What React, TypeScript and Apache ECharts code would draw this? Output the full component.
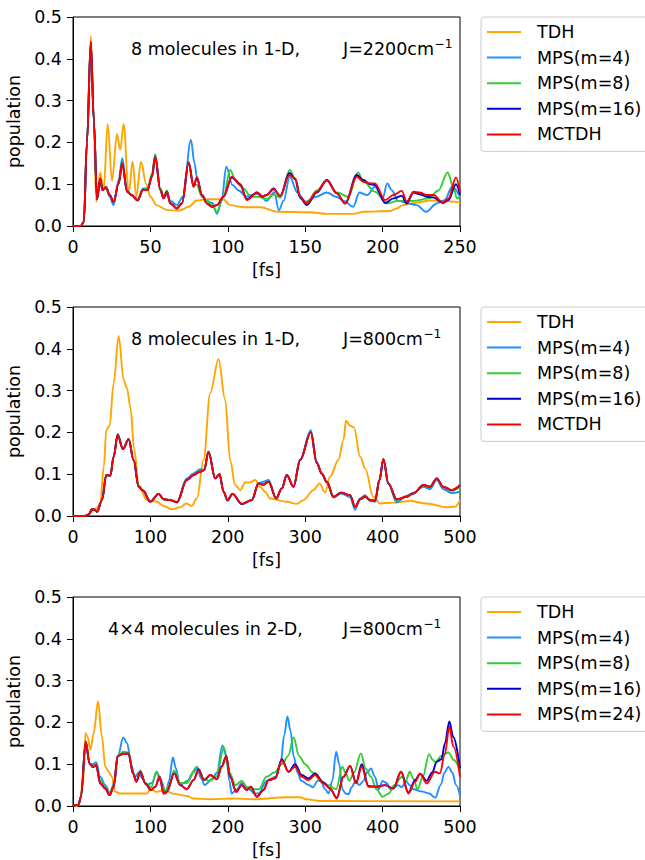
import React, { useEffect, useRef } from "react";
import * as echarts from "echarts";

const FONT = "DejaVu Sans";
const FS = 17.5;
const FS_SUP = 12.2;

const COLORS = ["#FFA500", "#1E90FF", "#32CD32", "#0000CD", "#FF0000"];
const NAMES_1D = ["TDH", "MPS(m=4)", "MPS(m=8)", "MPS(m=16)", "MCTDH"];
const NAMES_2D = ["TDH", "MPS(m=4)", "MPS(m=8)", "MPS(m=16)", "MPS(m=24)"];

const X_MAX = [250, 500, 500];
const X_INT = [50, 100, 100];
const Y_TICKS = [0, 0.1, 0.2, 0.3, 0.4, 0.5];

const TITLES = ["8 molecules in 1-D,", "8 molecules in 1-D,", "4×4 molecules in 2-D,"];
const J_LABELS = ["J=2200cm", "J=800cm", "J=800cm"];
const SUP = "−1";

// ---------- Panel 1 : 8 molecules 1-D, J=2200 ----------
const p1TDH = [[0,0],[5,0],[7,0.01],[9,0.2],[11.5,0.454],[13,0.3],[15,0.058],[17.6,0.128],[19.8,0.085],[22.4,0.244],[25.2,0.108],[28.4,0.22],[30.5,0.182],[32.7,0.244],[36,0.078],[38.5,0.154],[40.9,0.07],[43.9,0.154],[47.3,0.1],[50,0.07],[54,0.05],[60.7,0.038],[69,0.037],[74.7,0.046],[80,0.061],[86.5,0.064],[97,0.064],[101.5,0.05],[110,0.045],[121,0.045],[131.7,0.034],[153,0.033],[164,0.029],[181,0.029],[187.6,0.034],[205,0.036],[209,0.042],[213,0.05],[222,0.056],[230.6,0.061],[250,0.057]];
const p1MPS4 = [[0,0],[5,0],[7,0.01],[9,0.2],[11.5,0.44],[13.5,0.25],[15.5,0.064],[17.6,0.11],[19,0.086],[21.3,0.09],[23.7,0.07],[26.2,0.05],[29.5,0.11],[31.8,0.162],[34.9,0.085],[38,0.072],[41.7,0.06],[45.2,0.09],[48.2,0.09],[51,0.12],[53.1,0.165],[56.4,0.09],[58.5,0.07],[60.7,0.075],[63,0.06],[67,0.05],[71,0.07],[76.2,0.206],[78.5,0.15],[80,0.118],[83.3,0.075],[86.5,0.06],[90,0.055],[93,0.029],[96,0.06],[99,0.142],[103,0.098],[107,0.085],[112,0.07],[116,0.075],[120,0.078],[125,0.06],[130,0.08],[133,0.038],[136,0.06],[140,0.118],[145,0.08],[150,0.058],[157,0.07],[164,0.08],[170,0.07],[175,0.06],[181,0.046],[185,0.08],[190,0.074],[195,0.094],[200,0.066],[203,0.102],[206,0.085],[210,0.06],[217,0.054],[222,0.05],[228,0.034],[235,0.054],[240,0.062],[245,0.094],[250,0.07]];
const p1MPS8 = [[0,0],[5,0],[7,0.01],[9,0.2],[11.5,0.44],[13.5,0.25],[15.5,0.064],[17.6,0.114],[19,0.086],[21.3,0.093],[23.7,0.074],[26.2,0.058],[29.5,0.102],[31.8,0.152],[34.9,0.082],[38,0.074],[41.7,0.062],[45.2,0.086],[48.2,0.088],[51,0.125],[53.1,0.172],[56.4,0.09],[58.5,0.07],[60.7,0.085],[62.8,0.056],[67,0.042],[70.4,0.056],[74.7,0.15],[77.9,0.1],[80,0.098],[83.3,0.07],[86.5,0.06],[89.7,0.05],[93,0.034],[97.2,0.07],[101.5,0.134],[105,0.11],[110,0.09],[115,0.07],[120,0.07],[125,0.065],[130,0.075],[134,0.068],[140,0.134],[144,0.11],[147,0.065],[151,0.055],[157.5,0.085],[164,0.11],[170.4,0.08],[178,0.07],[184,0.128],[188,0.105],[195,0.082],[203,0.054],[210,0.06],[220,0.06],[230,0.066],[236,0.085],[242,0.128],[246,0.09],[248,0.066],[250,0.07]];
const p1MPS16 = [[0,0],[5,0],[7,0.01],[9,0.2],[11.5,0.44],[13.5,0.25],[15.5,0.064],[17.6,0.114],[19,0.086],[21.3,0.093],[23.7,0.074],[26.2,0.058],[29.5,0.102],[31.8,0.15],[34.9,0.082],[38,0.074],[41.7,0.062],[45.2,0.086],[48.2,0.086],[51,0.118],[53.1,0.166],[56.4,0.086],[58.5,0.066],[60.7,0.082],[62.8,0.054],[67,0.042],[70.4,0.054],[74.7,0.152],[77.9,0.094],[80,0.115],[83.3,0.074],[86.5,0.054],[89.7,0.046],[93,0.05],[97.2,0.07],[102.6,0.116],[108,0.1],[112.3,0.064],[118.8,0.08],[122,0.07],[125.2,0.074],[129.5,0.09],[133.8,0.072],[139.8,0.127],[143.5,0.112],[146.7,0.068],[151,0.05],[157.5,0.08],[164,0.11],[170.4,0.078],[175.8,0.054],[183.3,0.122],[187.6,0.11],[191.9,0.1],[195,0.098],[201.6,0.055],[207,0.066],[212.4,0.072],[215.6,0.054],[220,0.08],[224,0.076],[228.5,0.07],[232.8,0.068],[239,0.055],[242.5,0.062],[247.4,0.1],[250,0.075]];
const p1MCTDH = [[0,0],[5,0],[7,0.01],[9,0.2],[11.5,0.442],[13.5,0.25],[15.5,0.064],[17.6,0.114],[19,0.086],[21.3,0.093],[23.7,0.074],[26.2,0.058],[29.5,0.102],[31.8,0.15],[34.9,0.082],[38,0.074],[41.7,0.062],[45.2,0.086],[48.2,0.086],[51,0.118],[53.1,0.165],[56.4,0.086],[58.5,0.066],[60.7,0.082],[62.8,0.054],[67,0.042],[70.4,0.054],[74.7,0.152],[77.9,0.094],[80,0.117],[83.3,0.074],[86.5,0.054],[89.7,0.046],[93,0.05],[97.2,0.07],[102.6,0.118],[108,0.098],[112.3,0.062],[118.8,0.08],[122,0.07],[125.2,0.074],[129.5,0.088],[133.8,0.072],[139.8,0.122],[143.5,0.114],[146.7,0.07],[151,0.054],[157.5,0.082],[164,0.109],[170.4,0.078],[175.8,0.054],[183.3,0.118],[187.6,0.106],[191.9,0.102],[195,0.102],[201.6,0.062],[207,0.074],[212.4,0.084],[215.6,0.058],[220,0.082],[224,0.08],[228.5,0.074],[232.8,0.074],[239,0.056],[242.5,0.066],[247.4,0.116],[250,0.082]];

// ---------- Panel 2 : 8 molecules 1-D, J=800 ----------
const p2TDH = [[0,0],[15,0],[20,0.005],[30,0.018],[35,0.03],[40,0.12],[43,0.206],[47.3,0.216],[52.5,0.318],[59,0.431],[65.4,0.326],[69.7,0.306],[74,0.262],[79.2,0.158],[84.8,0.074],[95.5,0.038],[108.4,0.034],[117,0.024],[127.8,0.016],[138.5,0.021],[146.3,0.03],[153.6,0.024],[160,0.042],[168.7,0.134],[177.3,0.294],[188,0.375],[196.6,0.278],[203,0.134],[209.6,0.074],[216,0.062],[222.5,0.08],[229,0.08],[235.4,0.086],[241.8,0.07],[248.3,0.058],[254.7,0.042],[276,0.034],[289,0.029],[297.8,0.038],[310.7,0.062],[318.4,0.078],[325.7,0.056],[332,0.094],[343,0.134],[349.4,0.182],[352.8,0.228],[358,0.216],[363,0.212],[371,0.142],[377.4,0.114],[388,0.046],[396.7,0.03],[414,0.032],[435.5,0.036],[457,0.03],[482.8,0.021],[493.5,0.022],[500,0.038]];
const p2MPS4 = [[0,0],[15,0],[20,0.003],[24.5,0.016],[28,0.015],[31,0.01],[37.4,0.038],[43,0.098],[48.2,0.097],[52.5,0.142],[57.7,0.196],[64.5,0.16],[71.9,0.184],[78.3,0.134],[84.8,0.07],[90.4,0.061],[99.8,0.034],[110.6,0.053],[117,0.04],[125.6,0.038],[134.3,0.033],[147,0.09],[155.8,0.102],[164.4,0.112],[169.5,0.11],[175,0.154],[183.7,0.09],[189.3,0.1],[194.5,0.058],[199.7,0.036],[206,0.053],[218,0.028],[231,0.038],[239.7,0.078],[246,0.082],[252.6,0.086],[262.5,0.042],[269.8,0.066],[276.2,0.098],[284.9,0.07],[293.5,0.136],[307.2,0.205],[315,0.13],[321.4,0.1],[327.9,0.08],[336.5,0.044],[346.4,0.054],[358,0.045],[364.5,0.015],[371,0.042],[377.4,0.05],[383.8,0.036],[390.3,0.034],[395.9,0.086],[401,0.136],[407.5,0.076],[418.2,0.033],[431,0.048],[439.8,0.056],[452.7,0.07],[461.3,0.064],[470,0.086],[478.5,0.064],[489.2,0.055],[500,0.058]];
const p2MPS8 = [[0,0],[15,0],[20,0.003],[24.5,0.016],[28,0.015],[31,0.01],[37.4,0.038],[43,0.098],[48.2,0.096],[52.5,0.142],[57.7,0.194],[64.5,0.16],[71.9,0.184],[78.3,0.134],[84.8,0.07],[90.4,0.061],[99.8,0.034],[110.6,0.053],[117,0.04],[125.6,0.038],[134.3,0.033],[147,0.087],[155.8,0.099],[164.4,0.108],[169.5,0.11],[175,0.154],[183.7,0.09],[189.3,0.1],[194.5,0.058],[199.7,0.038],[206,0.053],[218,0.029],[231,0.038],[239.7,0.078],[246,0.076],[252.6,0.083],[262.5,0.042],[269.8,0.066],[276.2,0.098],[284.9,0.07],[293.5,0.134],[307.2,0.201],[315,0.127],[321.4,0.102],[327.9,0.082],[336.5,0.046],[346.4,0.056],[358,0.049],[364.5,0.02],[371,0.04],[377.4,0.047],[383.8,0.038],[390.3,0.037],[395.9,0.086],[401,0.136],[407.5,0.078],[418.2,0.038],[431,0.046],[439.8,0.054],[452.7,0.073],[461.3,0.068],[470,0.089],[478.5,0.068],[489.2,0.06],[500,0.07]];
const p2MPS16 = [[0,0],[15,0],[20,0.003],[24.5,0.016],[28,0.015],[31,0.01],[37.4,0.038],[43,0.098],[48.2,0.096],[52.5,0.142],[57.7,0.194],[64.5,0.16],[71.9,0.184],[78.3,0.134],[84.8,0.07],[90.4,0.061],[99.8,0.034],[110.6,0.053],[117,0.04],[125.6,0.038],[134.3,0.033],[147,0.086],[155.8,0.098],[164.4,0.106],[169.5,0.11],[175,0.154],[183.7,0.09],[189.3,0.1],[194.5,0.058],[199.7,0.038],[206,0.053],[218,0.029],[231,0.038],[239.7,0.078],[246,0.075],[252.6,0.082],[262.5,0.042],[269.8,0.066],[276.2,0.098],[284.9,0.07],[293.5,0.134],[307.2,0.2],[315,0.126],[321.4,0.102],[327.9,0.082],[336.5,0.046],[346.4,0.056],[358,0.05],[364.5,0.022],[371,0.04],[377.4,0.046],[383.8,0.038],[390.3,0.037],[395.9,0.086],[401,0.136],[407.5,0.078],[418.2,0.04],[431,0.046],[439.8,0.054],[452.7,0.074],[461.3,0.07],[470,0.09],[478.5,0.07],[489.2,0.062],[500,0.073]];
const p2MCTDH = [[0,0],[15,0],[20,0.003],[24.5,0.016],[28,0.015],[31,0.01],[37.4,0.038],[43,0.098],[48.2,0.096],[52.5,0.142],[57.7,0.194],[64.5,0.16],[71.9,0.184],[78.3,0.134],[84.8,0.07],[90.4,0.061],[99.8,0.034],[110.6,0.053],[117,0.04],[125.6,0.038],[134.3,0.033],[147,0.086],[155.8,0.098],[164.4,0.106],[169.5,0.11],[175,0.154],[183.7,0.09],[189.3,0.1],[194.5,0.058],[199.7,0.038],[206,0.053],[218,0.029],[231,0.038],[239.7,0.078],[246,0.074],[252.6,0.082],[262.5,0.042],[269.8,0.066],[276.2,0.098],[284.9,0.07],[293.5,0.134],[307.2,0.2],[315,0.126],[321.4,0.102],[327.9,0.082],[336.5,0.046],[346.4,0.056],[358,0.05],[364.5,0.022],[371,0.04],[377.4,0.046],[383.8,0.038],[390.3,0.037],[395.9,0.086],[401,0.136],[407.5,0.078],[418.2,0.04],[431,0.046],[439.8,0.054],[452.7,0.074],[461.3,0.07],[470,0.09],[478.5,0.07],[489.2,0.062],[500,0.074]];

// ---------- Panel 3 : 4x4 molecules 2-D, J=800 ----------
const p3TDH = [[0,0],[5,0],[8,0.005],[13.8,0.07],[16,0.174],[18.9,0.166],[22.4,0.134],[26.7,0.174],[32.3,0.25],[37.4,0.166],[41.7,0.094],[46,0.082],[50.3,0.07],[54.6,0.034],[61.1,0.03],[95.5,0.03],[99.8,0.04],[108,0.034],[119,0.038],[130,0.029],[147,0.024],[155.8,0.018],[177,0.016],[207,0.018],[233,0.016],[276,0.021],[293,0.021],[302,0.016],[319,0.012],[500,0.011]];
const p3MPS4 = [[0,0],[7,0.003],[10.3,0.022],[16.4,0.15],[21.5,0.1],[25.8,0.1],[30,0.105],[35,0.07],[41.7,0.05],[48,0.03],[54,0.06],[58,0.12],[65,0.164],[70,0.15],[75,0.1],[80,0.07],[85,0.08],[90,0.065],[95,0.05],[102,0.055],[108,0.082],[114,0.06],[120,0.03],[124,0.06],[129,0.116],[133,0.09],[138,0.05],[148,0.06],[155,0.08],[160,0.09],[166,0.065],[170,0.05],[180,0.065],[186,0.08],[193,0.145],[198,0.12],[202,0.06],[205,0.03],[212,0.04],[218,0.055],[223,0.045],[228,0.04],[234,0.03],[240,0.03],[250,0.06],[262,0.07],[268,0.1],[273,0.17],[277,0.214],[281,0.18],[285,0.12],[290,0.08],[295,0.06],[305,0.05],[310,0.045],[316,0.06],[320,0.06],[326,0.04],[330,0.03],[335,0.06],[340,0.13],[344,0.1],[348,0.04],[352,0.03],[356,0.028],[360,0.045],[365,0.06],[370,0.05],[375,0.06],[380,0.08],[385,0.09],[390,0.07],[395,0.04],[400,0.06],[405,0.055],[410,0.04],[415,0.045],[420,0.05],[425,0.045],[430,0.06],[435,0.05],[440,0.04],[450,0.035],[460,0.03],[468,0.02],[475,0.05],[480,0.08],[485,0.094],[490,0.08],[495,0.05],[500,0.025]];
const p3MPS8 = [[0,0],[7,0.003],[10.3,0.022],[16.4,0.154],[21.5,0.1],[25.8,0.093],[29.7,0.1],[35.3,0.06],[41.7,0.045],[47.3,0.03],[52.5,0.05],[57.7,0.12],[65.4,0.13],[71.9,0.128],[77.5,0.078],[81.8,0.06],[87,0.085],[93.4,0.055],[100.7,0.045],[108,0.08],[113,0.06],[119,0.035],[124,0.05],[130.8,0.085],[138.5,0.055],[147,0.055],[160,0.094],[168,0.065],[177,0.06],[185,0.07],[195,0.14],[202,0.08],[210,0.05],[218,0.06],[225,0.045],[232,0.04],[240,0.04],[250,0.07],[260,0.08],[270,0.1],[278,0.12],[285,0.164],[292,0.12],[300,0.1],[310,0.08],[320,0.06],[330,0.05],[340,0.04],[348,0.094],[352,0.08],[357,0.06],[363,0.08],[372,0.126],[378,0.09],[385,0.07],[392,0.04],[400,0.022],[408,0.03],[415,0.05],[425,0.07],[430,0.06],[435,0.082],[440,0.065],[445,0.04],[452,0.07],[460,0.124],[465,0.11],[468,0.105],[476,0.12],[485,0.128],[492,0.11],[500,0.085]];
const p3MPS16 = [[0,0],[7,0.003],[10.3,0.022],[16.4,0.154],[21.5,0.102],[25.8,0.093],[29.7,0.098],[35.3,0.054],[41.7,0.042],[47.3,0.026],[52.5,0.046],[57.7,0.12],[65.4,0.125],[71.9,0.125],[77.5,0.078],[81.8,0.058],[87,0.082],[93.4,0.054],[100.7,0.038],[106.3,0.046],[111.9,0.07],[117,0.03],[121.3,0.034],[130.8,0.078],[138.5,0.05],[147,0.04],[155.8,0.062],[162.2,0.088],[169.5,0.062],[177.3,0.074],[185.9,0.064],[192.3,0.096],[198,0.12],[203,0.07],[210.8,0.034],[218,0.05],[224.6,0.038],[229.8,0.046],[237.5,0.022],[246,0.038],[252.6,0.062],[261.2,0.066],[269.8,0.112],[278.4,0.082],[287,0.1],[295.6,0.074],[304.2,0.066],[312.8,0.078],[323.6,0.056],[332,0.042],[340.8,0.02],[349.4,0.07],[358,0.096],[365.7,0.056],[373,0.1],[381.7,0.048],[392.4,0.046],[403.2,0.05],[414,0.042],[423.8,0.082],[433.3,0.032],[441.9,0.062],[448.4,0.077],[457,0.06],[464,0.08],[470,0.106],[476,0.112],[480.6,0.15],[486.2,0.202],[491.4,0.165],[500,0.09]];
const p3MPS24 = [[0,0],[7,0.003],[10.3,0.022],[16.4,0.154],[21.5,0.102],[25.8,0.093],[29.7,0.098],[35.3,0.054],[41.7,0.042],[47.3,0.026],[52.5,0.046],[57.7,0.12],[65.4,0.125],[71.9,0.125],[77.5,0.078],[81.8,0.058],[87,0.082],[93.4,0.054],[100.7,0.038],[106.3,0.046],[111.9,0.07],[117,0.03],[121.3,0.034],[130.8,0.078],[138.5,0.05],[147,0.04],[155.8,0.062],[162.2,0.086],[169.5,0.062],[177.3,0.074],[185.9,0.064],[192.3,0.094],[198,0.118],[203,0.07],[210.8,0.034],[218,0.05],[224.6,0.038],[229.8,0.046],[237.5,0.022],[246,0.038],[252.6,0.062],[261.2,0.066],[269.8,0.109],[278.4,0.082],[287,0.094],[295.6,0.07],[304.2,0.062],[312.8,0.074],[323.6,0.054],[332,0.042],[340.8,0.018],[349.4,0.07],[358,0.096],[365.7,0.054],[373,0.094],[381.7,0.046],[392.4,0.046],[403.2,0.05],[414,0.042],[423.8,0.082],[433.3,0.03],[441.9,0.058],[448.4,0.077],[457,0.054],[467.7,0.082],[474,0.078],[480.6,0.126],[486.2,0.19],[491.4,0.142],[500,0.07]];

const PANELS = [
  { names: NAMES_1D, data: [p1TDH, p1MPS4, p1MPS8, p1MPS16, p1MCTDH] },
  { names: NAMES_1D, data: [p2TDH, p2MPS4, p2MPS8, p2MPS16, p2MCTDH] },
  { names: NAMES_2D, data: [p3TDH, p3MPS4, p3MPS8, p3MPS16, p3MPS24] },
];

const GRID_LEFT = 73;
const GRID_W = 387;
const GRID_H = 209;
const GRID_TOPS = [17, 307, 597];
const TITLE_X = [131, 131, 108];
const TITLE_DY = 32.3;
const SUP_DY = 26.8;
const J_X = 343;

export default function App() {
  const ref = useRef<HTMLDivElement>(null);
  useEffect(() => {
    if (!ref.current) return;
    const chart = echarts.init(ref.current, undefined, { renderer: "svg" });
    const textBase = { fontFamily: FONT, fontSize: FS, color: "#000" };

    const grid = GRID_TOPS.map((t) => ({
      left: GRID_LEFT, top: t, width: GRID_W, height: GRID_H,
      containLabel: false, outerBoundsMode: "none",
      show: true, borderColor: "#000", borderWidth: 1, backgroundColor: "transparent",
    }));

    const xAxis = GRID_TOPS.map((_, i) => ({
      gridIndex: i, type: "value", min: 0, max: X_MAX[i], interval: X_INT[i],
      name: "[fs]", nameLocation: "middle", nameGap: 35,
      nameTextStyle: { ...textBase, lineHeight: 18 },
      axisLine: { show: true, onZero: false, lineStyle: { color: "#000", width: 1 } },
      axisTick: { show: true, inside: false, length: 6, lineStyle: { color: "#000" } },
      axisLabel: { ...textBase, margin: 12 },
      splitLine: { show: false },
    }));

    const yAxis = GRID_TOPS.map((_, i) => ({
      gridIndex: i, type: "value", min: Y_TICKS[0], max: Y_TICKS[Y_TICKS.length - 1], interval: 0.1,
      name: "population", nameLocation: "middle", nameGap: 50,
      nameTextStyle: { ...textBase },
      axisLine: { show: true, onZero: false, lineStyle: { color: "#000", width: 1 } },
      axisTick: { show: true, inside: false, length: 6, lineStyle: { color: "#000" } },
      axisLabel: { ...textBase, margin: 11, formatter: (v: number) => v.toFixed(1) },
      splitLine: { show: false },
    }));

    const series: any[] = [];
    PANELS.forEach((p, i) => {
      p.data.forEach((d, k) => {
        series.push({
          type: "line", name: p.names[k], xAxisIndex: i, yAxisIndex: i,
          data: d, showSymbol: false, symbol: "none", smooth: 0.35,
          smoothMonotone: "x", clip: true,
          lineStyle: { color: COLORS[k], width: 1.9 }, itemStyle: { color: COLORS[k] },
          z: 2 + k,
        });
      });
    });

    const legend = PANELS.map((p, i) => ({
      show: true, orient: "vertical", left: 481, top: GRID_TOPS[i],
      data: p.names, selectedMode: false, icon: "rect",
      itemWidth: 34, itemHeight: 2, itemGap: 7.6,
      padding: [6, 8, 8, 6],
      backgroundColor: "#fff", borderColor: "#cccccc", borderWidth: 1, borderRadius: 3,
      textStyle: { ...textBase, lineHeight: 18, padding: [0, 0, 0, 11] },
    }));

    const measure = (s: string, size: number) => {
      const c = document.createElement("canvas").getContext("2d");
      if (!c) return s.length * size * 0.6;
      c.font = `${size}px "${FONT}"`;
      return c.measureText(s).width;
    };

    const graphic: any[] = [];
    GRID_TOPS.forEach((t, i) => {
      graphic.push({
        type: "text", x: TITLE_X[i], y: t + TITLE_DY,
        style: { text: TITLES[i], fontFamily: FONT, fontSize: FS, fill: "#000", align: "left", verticalAlign: "middle" },
      });
      graphic.push({
        type: "text", x: J_X, y: t + TITLE_DY,
        style: { text: J_LABELS[i], fontFamily: FONT, fontSize: FS, fill: "#000", align: "left", verticalAlign: "middle" },
      });
      graphic.push({
        type: "text", x: J_X + measure(J_LABELS[i], FS) + 0.5, y: t + SUP_DY,
        style: { text: SUP, fontFamily: FONT, fontSize: FS_SUP, fill: "#000", align: "left", verticalAlign: "middle" },
      });
    });

    chart.setOption({
      animation: false,
      backgroundColor: "#fff",
      grid, xAxis, yAxis, series, legend, graphic,
    });
    return () => chart.dispose();
  }, []);

  return (
    <div
      ref={ref}
      style={{ position: "absolute", left: 0, top: 0, width: 645, height: 860 }}
    />
  );
}
